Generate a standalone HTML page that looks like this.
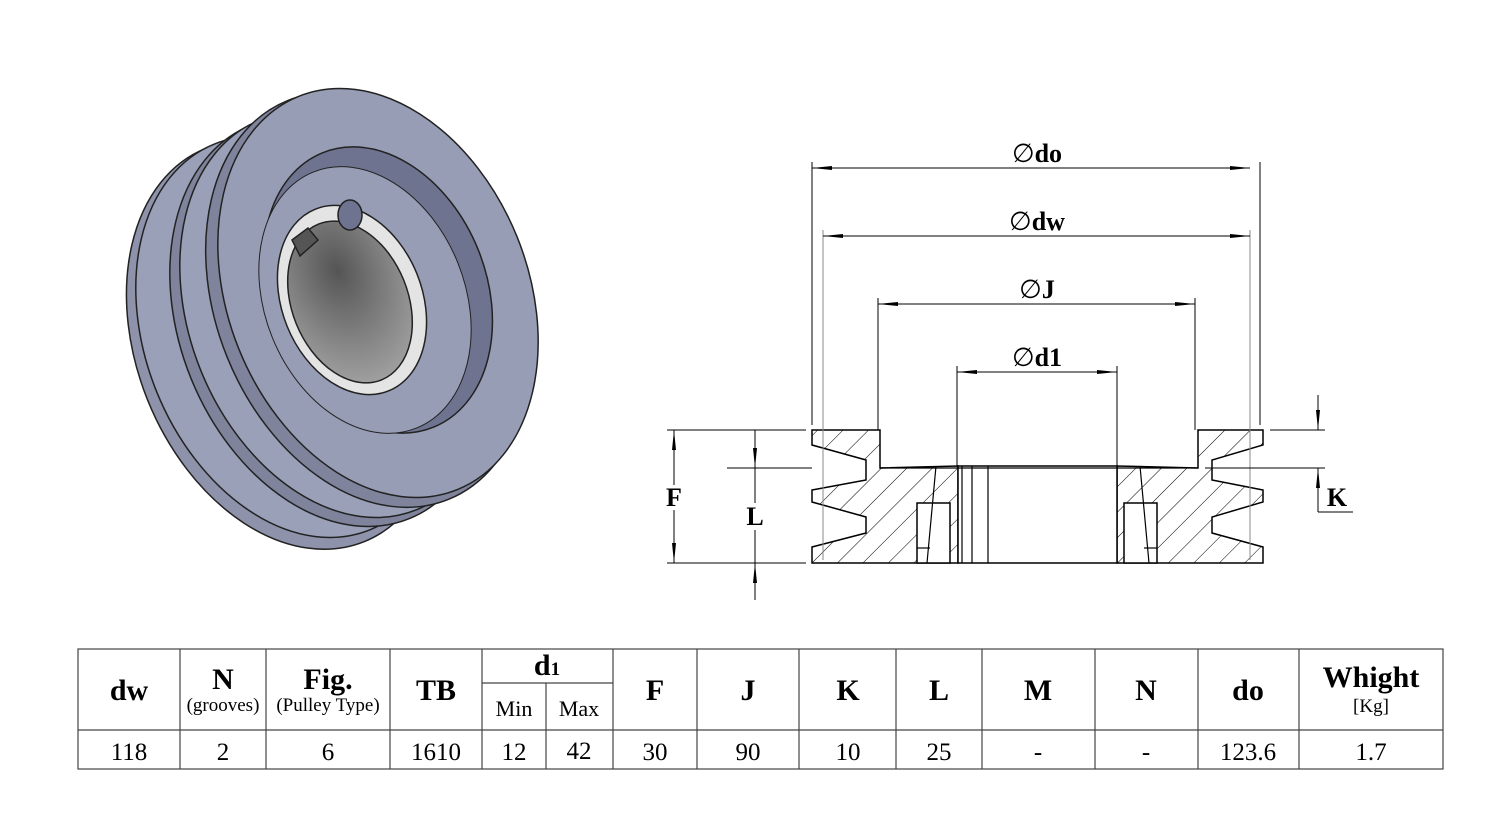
<!DOCTYPE html>
<html><head><meta charset="utf-8"><style>
html,body{margin:0;padding:0;background:#fff;}
svg{display:block;}
text{font-family:"Liberation Serif",serif;}
</style></head><body>
<svg width="1500" height="822" viewBox="0 0 1500 822" xmlns="http://www.w3.org/2000/svg">
<defs>
<pattern id="h" patternUnits="userSpaceOnUse" width="18" height="18" patternTransform="rotate(45)">
<line x1="0" y1="0" x2="0" y2="18" stroke="#000" stroke-width="1"/>
</pattern>
<marker id="a" markerWidth="20" markerHeight="8" refX="20" refY="4" orient="auto" markerUnits="userSpaceOnUse">
<path d="M0,2 L20,4 L0,6 Z" fill="#000"/></marker>
<radialGradient id="bore" cx="0.5" cy="0.3" r="0.8">
<stop offset="0" stop-color="#555"/><stop offset="1" stop-color="#aaa"/></radialGradient>
</defs>

<!-- 3D pulley -->
<g stroke="#222" stroke-width="1.5">
<ellipse cx="285" cy="345" rx="148" ry="212" transform="rotate(-22 285 345)" fill="#8e93ab"/>
<ellipse cx="292" cy="337" rx="146" ry="208" transform="rotate(-22 292 337)" fill="#9aa0b8"/>
<ellipse cx="330" cy="322" rx="150" ry="212" transform="rotate(-22 330 322)" fill="#7f849c"/>
<ellipse cx="338" cy="315" rx="148" ry="210" transform="rotate(-22 338 315)" fill="#9aa0b8"/>
<ellipse cx="368" cy="300" rx="152" ry="215" transform="rotate(-22 368 300)" fill="#7f849c"/>
<ellipse cx="378" cy="293" rx="150" ry="212" transform="rotate(-22 378 293)" fill="#979db5"/>
<ellipse cx="378" cy="290" rx="108" ry="148" transform="rotate(-22 378 290)" fill="#6e7390"/>
<ellipse cx="365" cy="300" rx="100" ry="138" transform="rotate(-22 365 300)" fill="#979db5" stroke-width="1"/>
<ellipse cx="352" cy="300" rx="70" ry="98" transform="rotate(-22 352 300)" fill="#e4e4e4"/>
<ellipse cx="350" cy="302" rx="58" ry="84" transform="rotate(-22 350 302)" fill="url(#bore)"/>
<ellipse cx="350" cy="215" rx="12" ry="15" fill="#6e7390"/>
<path d="M292,240 L308,228 L318,240 L300,256 Z" fill="#555"/>
</g>

<!-- cross section -->
<g stroke="#000" stroke-width="1.5" fill="url(#h)">
<path d="M812,430 L880,430 L880,468 L958,466 L958,563 L812,563 L812,547 L866,533 L866,517 L812,502 L812,490 L866,480 L866,460 L812,445 Z"/>
<path d="M1263,430 L1198,430 L1198,468 L1117,466 L1117,563 L1263,563 L1263,547 L1212,533 L1212,517 L1263,502 L1263,490 L1212,480 L1212,460 L1263,445 Z"/>
</g>
<g stroke="#000" stroke-width="1.5" fill="#fff">
<rect x="917" y="503" width="33" height="60"/>
<rect x="1124" y="503" width="33" height="60"/>
<rect x="958" y="466" width="159" height="97"/>
</g>
<g stroke="#000" stroke-width="1.2" fill="none">
<line x1="936" y1="466" x2="927" y2="563"/><line x1="1140" y1="466" x2="1149" y2="563"/>
<line x1="962" y1="466" x2="962" y2="563"/><line x1="972" y1="466" x2="972" y2="563"/><line x1="988" y1="466" x2="988" y2="563"/>
<line x1="917" y1="548" x2="930" y2="548"/><line x1="1144" y1="548" x2="1157" y2="548"/>
<line x1="880" y1="468" x2="1198" y2="468"/>
</g>
<!-- extension lines -->
<g stroke="#000" stroke-width="1" fill="none">
<line x1="812" y1="162" x2="812" y2="425"/><line x1="1260" y1="162" x2="1260" y2="425"/>
<line x1="823" y1="230" x2="823" y2="560" stroke="#888"/><line x1="1250" y1="230" x2="1250" y2="560" stroke="#888"/>
<line x1="878" y1="298" x2="878" y2="430"/><line x1="1195" y1="298" x2="1195" y2="430"/>
<line x1="957" y1="366" x2="957" y2="466"/><line x1="1117" y1="366" x2="1117" y2="466"/>
<line x1="822" y1="168" x2="1250" y2="168" marker-end="url(#a)"/><line x1="1250" y1="168" x2="812" y2="168" marker-end="url(#a)"/>
<line x1="833" y1="236" x2="1250" y2="236" marker-end="url(#a)"/><line x1="1240" y1="236" x2="823" y2="236" marker-end="url(#a)"/>
<line x1="888" y1="304" x2="1195" y2="304" marker-end="url(#a)"/><line x1="1185" y1="304" x2="878" y2="304" marker-end="url(#a)"/>
<line x1="967" y1="372" x2="1117" y2="372" marker-end="url(#a)"/><line x1="1107" y1="372" x2="957" y2="372" marker-end="url(#a)"/>
<line x1="667" y1="430" x2="806" y2="430"/><line x1="667" y1="563" x2="806" y2="563"/>
<line x1="674" y1="485" x2="674" y2="430" marker-end="url(#a)"/><line x1="674" y1="510" x2="674" y2="563" marker-end="url(#a)"/>
<line x1="727" y1="468" x2="812" y2="468"/>
<line x1="755" y1="430" x2="755" y2="468" marker-end="url(#a)"/>
<line x1="755" y1="600" x2="755" y2="563" marker-end="url(#a)"/>
<line x1="755" y1="468" x2="755" y2="503"/><line x1="755" y1="530" x2="755" y2="563"/>
<line x1="1270" y1="430" x2="1325" y2="430"/><line x1="1205" y1="468" x2="1325" y2="468"/>
<line x1="1318" y1="395" x2="1318" y2="430" marker-end="url(#a)"/>
<line x1="1318" y1="512" x2="1318" y2="468" marker-end="url(#a)"/>
<line x1="1318" y1="512" x2="1353" y2="512"/>
</g>
<g font-weight="bold" font-size="26" text-anchor="middle">
<text x="1037" y="162"><tspan font-weight="normal">∅</tspan>do</text>
<text x="1037" y="230"><tspan font-weight="normal">∅</tspan>dw</text>
<text x="1037" y="298"><tspan font-weight="normal">∅</tspan>J</text>
<text x="1037" y="366"><tspan font-weight="normal">∅</tspan>d1</text>
<text x="674" y="506">F</text><text x="755" y="525">L</text><text x="1337" y="506">K</text>
</g>

<!-- table -->
<g stroke="#444" stroke-width="1.2" fill="none">
<rect x="78" y="649" width="1365" height="120"/>
<line x1="78" y1="730" x2="1443" y2="730"/>
<line x1="180" y1="649" x2="180" y2="769"/><line x1="266" y1="649" x2="266" y2="769"/>
<line x1="390" y1="649" x2="390" y2="769"/><line x1="482" y1="649" x2="482" y2="769"/>
<line x1="546" y1="683" x2="546" y2="769"/><line x1="613" y1="649" x2="613" y2="769"/>
<line x1="482" y1="683" x2="613" y2="683"/>
<line x1="697" y1="649" x2="697" y2="769"/><line x1="799" y1="649" x2="799" y2="769"/>
<line x1="896" y1="649" x2="896" y2="769"/><line x1="982" y1="649" x2="982" y2="769"/>
<line x1="1095" y1="649" x2="1095" y2="769"/><line x1="1198" y1="649" x2="1198" y2="769"/>
<line x1="1299" y1="649" x2="1299" y2="769"/>
</g>
<g font-weight="bold" font-size="30" text-anchor="middle">
<text x="129" y="700">dw</text><text x="223" y="689">N</text><text x="328" y="689">Fig.</text>
<text x="436" y="700">TB</text><text x="547" y="675">d<tspan font-size="19">1</tspan></text>
<text x="655" y="700">F</text><text x="748" y="700">J</text><text x="848" y="700">K</text>
<text x="939" y="700">L</text><text x="1038" y="700">M</text><text x="1146" y="700">N</text>
<text x="1248" y="700">do</text><text x="1371" y="687">Whight</text>
</g>
<g font-size="19" text-anchor="middle">
<text x="223" y="711">(grooves)</text><text x="328" y="711">(Pulley Type)</text>
<text x="1371" y="712">[Kg]</text>
</g>
<g font-size="22" text-anchor="middle">
<text x="514" y="716">Min</text><text x="579" y="716">Max</text>
</g>
<g font-size="25" text-anchor="middle">
<text x="129" y="760">118</text><text x="223" y="760">2</text><text x="328" y="760">6</text>
<text x="436" y="760">1610</text><text x="514" y="760">12</text><text x="579" y="759">42</text>
<text x="655" y="760">30</text><text x="748" y="760">90</text><text x="848" y="760">10</text>
<text x="939" y="760">25</text><text x="1038" y="760">-</text><text x="1146" y="760">-</text>
<text x="1248" y="760">123.6</text><text x="1371" y="760">1.7</text>
</g>
</svg>
</body></html>
